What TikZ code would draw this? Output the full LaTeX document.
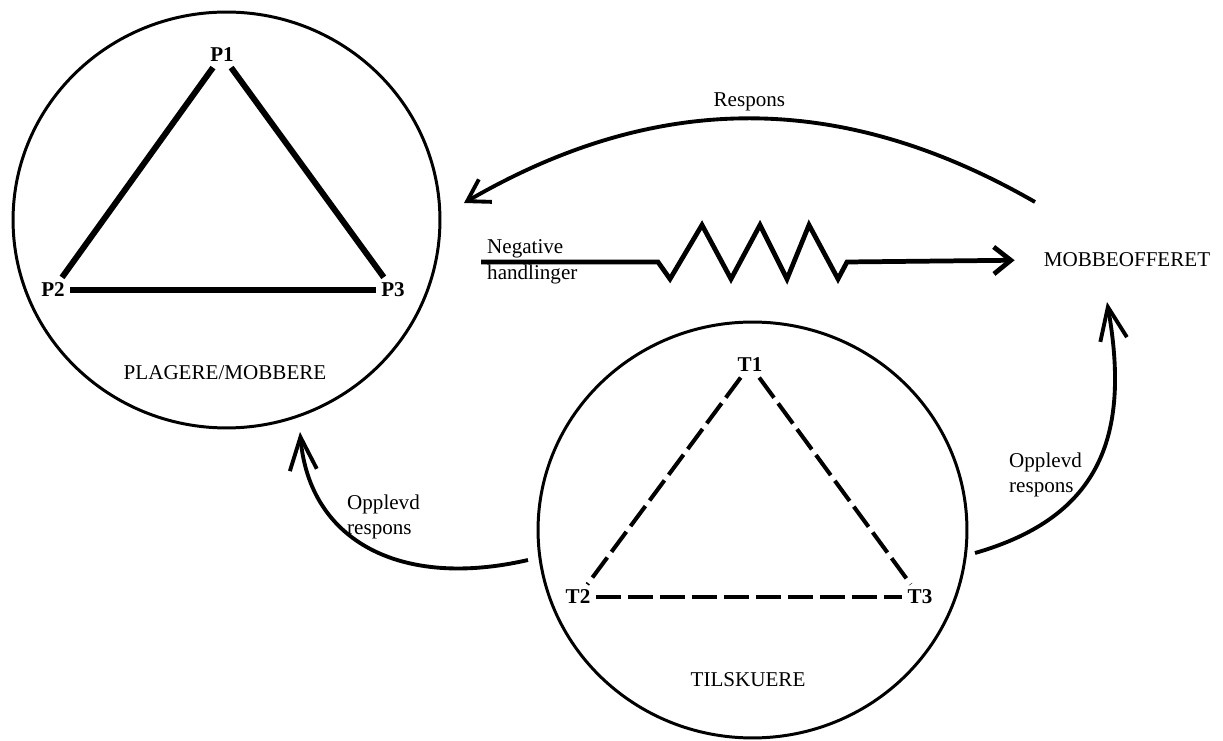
\documentclass[tikz,border=0pt]{standalone}
\usepackage{fontspec}
\setmainfont{Liberation Serif}
\usetikzlibrary{calc,arrows.meta,shapes.geometric}

\tikzset{
  ring/.style={ellipse, draw, line width=1.7pt, inner sep=0pt},
  corner/.style={font=\fontsize{12}{14.5}\selectfont\bfseries, inner sep=3pt},
  strong/.style={line width=3.4pt},
  weak/.style={line width=2.3pt, dash pattern=on 0.5cm off 0.14cm},
  zig/.style={line width=2.7pt, -{Straight Barb[length=0.34cm, width=0.54cm]}},
  flow/.style={line width=2.2pt, -{Straight Barb[length=0.42cm, width=0.52cm]}},
  seen/.style={line width=2.2pt, -{Straight Barb[length=0.66cm, width=0.54cm]}}
}

\begin{document}
\begin{tikzpicture}[x=0.02cm, y=0.02cm,
    every node/.style={font=\fontsize{12}{14.5}\selectfont}]
            \useasboundingbox (0,0) rectangle (1223,740);

            % plagere
            \node (PC) [ring, minimum width=8.54cm, minimum height=8.32cm] at (226.5,520) {};
            \node (P1) [corner] at (222,685) {P1};
            \node (P2) [corner] at (53,450) {P2};
            \node (P3) [corner] at (393,450) {P3};
            \node (plagere) at (225,367) {PLAGERE/MOBBERE};

            % tilskuere
            \node (TC) [ring, minimum width=8.58cm, minimum height=8.32cm] at (752.5,210) {};
            \node (T1) [corner] at (750,375) {T1};
            \node (T2) [corner] at (578,143) {T2};
            \node (T3) [corner] at (920,143) {T3};
            \node (tilskuere) at (748,60) {TILSKUERE};

            \foreach \a/\b in {P1/P2,P1/P3,P2/P3}
                {
                    \draw [strong] (\a) -- (\b);
                }
            \foreach \a/\b in {T1/T2,T1/T3,T2/T3}
                {
                    \draw [weak] (\a) -- (\b);
                }

            % offeret
            \node (MO) at (1127,480) {MOBBEOFFERET};
            \node (neg) [anchor=west, align=left] at (481,478) {Negative\\handlinger};

            \draw [zig, shorten >=0.46cm] (neg.west) -- ++(177,0) -- ++(12,-17) -- ++(32,54)
                -- ++(29,-54) -- ++(29,54) -- ++(27,-54) -- ++(22,54) -- ++(29,-54)
                -- ++(9,17) -- (MO.west);

            \coordinate (respFrom) at ($(MO) + (-92,58)$);
            \coordinate (respTo) at ($(PC) + (237.5,17)$);
            \draw [flow] (respFrom) to[bend right=30] node [above] {Respons} (respTo);

            \coordinate (seenL) at ($(TC) + (-224.5,-30)$);
            \coordinate (seenLto) at ($(PC) + (73.5,-212)$);
            \draw [seen] (seenL) to[out=193, in=-85, out distance=2.6cm, in distance=2.2cm] (seenLto);
            \node (opL) [anchor=west, align=left] at (341,223) {Opplevd\\respons};

            \coordinate (seenR) at ($(TC) + (222.5,-23)$);
            \coordinate (seenRto) at ($(MO) + (-20,-42)$);
            \draw [seen] (seenR) to[out=16, in=-80, looseness=1.2] (seenRto);
            \node (opR) [anchor=west, align=left] at (1003,265) {Opplevd\\respons};

        \end{tikzpicture}
\end{document}
